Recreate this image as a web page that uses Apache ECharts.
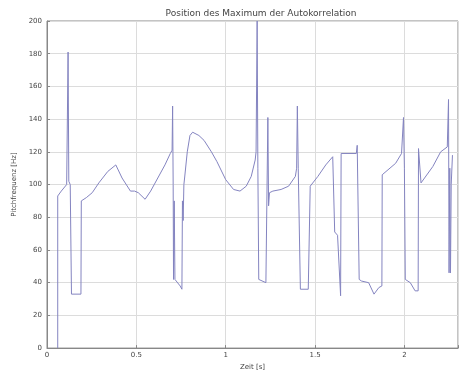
<!DOCTYPE html>
<html>
<head>
<meta charset="utf-8">
<script src="https://cdn.jsdelivr.net/npm/echarts@6/dist/echarts.min.js"></script>
<style>html,body{margin:0;padding:0;background:#fff;overflow:hidden}#c{width:461px;height:376px}</style>
</head>
<body>
<div id="c"></div>
<script>
const titleText = "Position des Maximum der Autokorrelation";
const xLabel = "Zeit [s]";
const yLabel = "Pitchfrequenz [Hz]";
const xTicks = [0, 0.5, 1, 1.5, 2];
const yTicks = [0, 20, 40, 60, 80, 100, 120, 140, 160, 180, 200];

const times = [
  0.060, 0.060, 0.080, 0.110, 0.115, 0.118, 0.122, 0.130, 0.137, 0.140, 0.190, 0.192, 0.220, 0.253,
  0.290, 0.340, 0.385, 0.420, 0.467, 0.490, 0.511, 0.549, 0.580, 0.620, 0.660, 0.690, 0.700, 0.703,
  0.706, 0.708, 0.712, 0.716, 0.720, 0.745, 0.755, 0.758, 0.762, 0.766, 0.770, 0.785, 0.800, 0.815,
  0.850, 0.879, 0.920, 0.951, 1.000, 1.044, 1.080, 1.115, 1.143, 1.165, 1.170, 1.176, 1.180, 1.185,
  1.225, 1.230, 1.236, 1.240, 1.245, 1.264, 1.310, 1.352, 1.390, 1.397, 1.401, 1.406, 1.418, 1.462,
  1.473, 1.516, 1.560, 1.599, 1.610, 1.626, 1.643, 1.646, 1.731, 1.736, 1.747, 1.760, 1.800, 1.830,
  1.857, 1.874, 1.876, 1.951, 1.984, 1.995, 2.000, 2.005, 2.033, 2.060, 2.077, 2.079, 2.093, 2.159,
  2.203, 2.240, 2.247, 2.250, 2.254, 2.258, 2.262, 2.269
];
const values = [
  0, 93, 96, 100, 101, 181, 102, 100, 33, 33, 33, 90, 92, 95,
  101, 108, 112, 104, 96, 96, 95, 91, 96, 104, 112, 119, 121, 148,
  100, 42, 90, 42, 42, 38, 36, 90, 78, 100, 104, 120, 130, 132,
  130, 127, 120, 114, 103, 97, 96, 99, 105, 115, 120, 200, 110, 42,
  40, 40, 141, 87, 95, 96, 97, 99, 105, 110, 148, 110, 36, 36,
  99, 105, 112, 117, 71, 69, 32, 119, 119, 124, 42, 41, 40, 33,
  37, 38, 106, 113, 119, 141, 110, 42, 40, 35, 35, 122, 101, 111,
  120, 123, 152, 46, 110, 46, 100, 118
];

const data = times.map((t, i) => [t, values[i]]);
const chart = echarts.init(document.getElementById('c'), null, {renderer: 'canvas'});
const txt = '#444';
chart.setOption({
  animation: false,
  backgroundColor: '#fff',
  title: {
    text: titleText, left: 256, top: 4, textAlign: 'center',
    textStyle: {fontSize: 9, fontWeight: 'normal', color: txt, fontFamily: 'DejaVu Sans'}
  },
  grid: {left: 47, top: 21, right: -5, bottom: 27, show: true, borderColor: '#888', borderWidth: 1, backgroundColor: '#fff'},
  xAxis: {
    type: 'value', min: 0, max: 2.3, interval: 0.5,
    name: xLabel, nameLocation: 'middle', nameGap: 14,
    nameTextStyle: {fontSize: 7, color: txt, fontFamily: 'DejaVu Sans'},
    axisLine: {show: true, lineStyle: {color: '#888'}},
    axisTick: {show: true, inside: true, length: 3, lineStyle: {color: '#888'}},
    axisLabel: {fontSize: 7, color: txt, margin: 4, fontFamily: 'DejaVu Sans',
      formatter: v => xTicks.includes(v) ? String(v) : ''},
    splitLine: {show: true, lineStyle: {color: '#dcdcdc', type: 'solid'}}
  },
  yAxis: {
    type: 'value', min: 0, max: 200, interval: 20,
    name: yLabel, nameLocation: 'middle', nameGap: 24, nameRotate: 90,
    nameTextStyle: {fontSize: 7, color: txt, fontFamily: 'DejaVu Sans'},
    axisLine: {show: true, lineStyle: {color: '#888'}},
    axisTick: {show: true, inside: true, length: 3, lineStyle: {color: '#888'}},
    axisLabel: {fontSize: 7, color: txt, margin: 5, fontFamily: 'DejaVu Sans',
      formatter: v => yTicks.includes(v) ? String(v) : ''},
    splitLine: {show: true, lineStyle: {color: '#dcdcdc', type: 'solid'}}
  },
  series: [{
    type: 'line', data: data, showSymbol: false, symbol: 'none',
    lineStyle: {color: '#8484c0', width: 1}, clip: true
  }]
});
</script>
</body>
</html>
